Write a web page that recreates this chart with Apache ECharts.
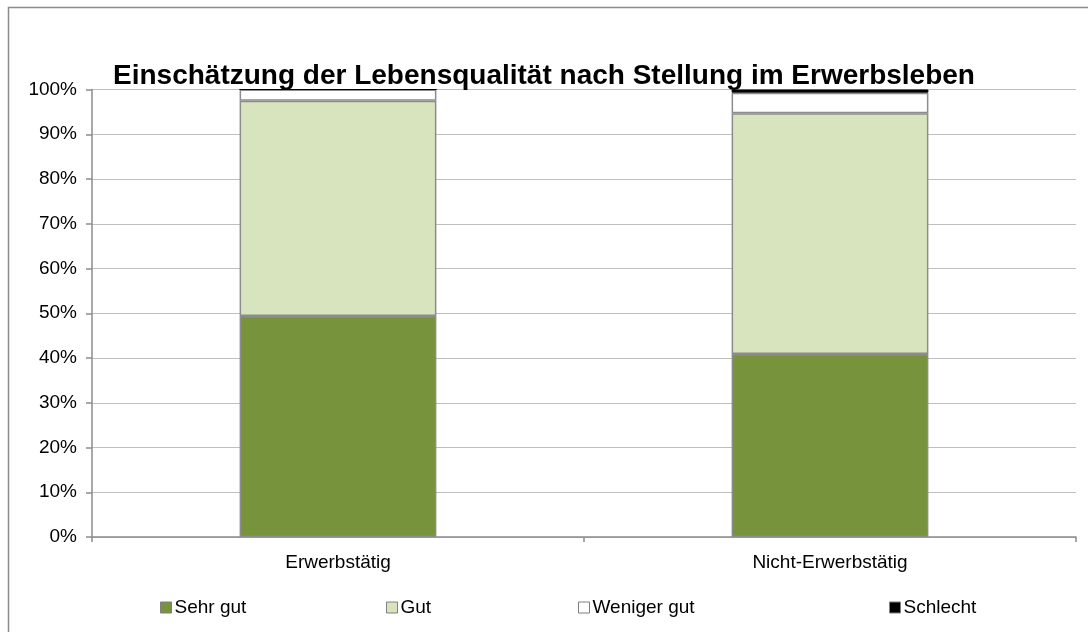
<!DOCTYPE html>
<html>
<head>
<meta charset="utf-8">
<script src="https://cdn.jsdelivr.net/npm/echarts@6/dist/echarts.min.js"></script>
<style>
html,body{margin:0;padding:0;background:#fff;}
#chart{width:1088px;height:632px;}
</style>
</head>
<body>
<div id="chart"></div>
<script>
const categories = ['Erwerbstätig', 'Nicht-Erwerbstätig'];
const seriesNames = ['Sehr gut', 'Gut', 'Weniger gut', 'Schlecht'];
const sehrGut = [49.4, 40.9];
const gut = [48.1, 53.8];
const wenigerGut = [2.5, 4.6];
const schlecht = [0, 0.7];
const yTicks = [0, 10, 20, 30, 40, 50, 60, 70, 80, 90, 100];

const values = [sehrGut, gut, wenigerGut, schlecht];
const colors = ['#77933C', '#D7E4BD', '#FFFFFF', '#000000'];
const borders = ['#8c8c8c', '#8c8c8c', '#8c8c8c', '#000000'];
const legendLeft = [160, 386, 578, 889];
const FONT = 'Liberation Sans, Arial, sans-serif';

const chart = echarts.init(document.getElementById('chart'), null, {renderer: 'canvas'});
chart.setOption({
  animation: false,
  backgroundColor: '#fff',
  title: {
    text: 'Einschätzung der Lebensqualität nach Stellung im Erwerbsleben',
    left: 'center', top: 57,
    textStyle: {fontFamily: FONT, fontSize: 28, fontWeight: 'bold', color: '#000'}
  },
  graphic: [{
    type: 'rect', shape: {x: 8.5, y: 7.5, width: 1100, height: 700},
    style: {fill: null, stroke: '#8c8c8c', lineWidth: 1.5}, silent: true
  }],
  legend: seriesNames.map((n, i) => ({
    data: [n], left: legendLeft[i], top: 598, itemWidth: 11, itemHeight: 11, itemGap: 2,
    icon: 'rect', padding: 0,
    textStyle: {fontFamily: FONT, fontSize: 19, color: '#000', padding: [0,0,0,-2]},
    itemStyle: {borderColor: '#7f7f7f', borderWidth: 1}
  })),
  grid: {left: 92, right: 12, top: 89.5, bottom: 95, containLabel: false},
  xAxis: {
    type: 'category', data: categories, boundaryGap: true,
    axisLine: {lineStyle: {color: '#8c8c8c', width: 1.5}},
    axisTick: {show: true, length: 5, lineStyle: {color: '#8c8c8c', width: 1.5}},
    axisLabel: {fontFamily: FONT, fontSize: 19, color: '#000', margin: 16}
  },
  yAxis: {
    type: 'value', min: yTicks[0], max: yTicks[yTicks.length-1], interval: 10,
    axisLine: {show: true, lineStyle: {color: '#8c8c8c', width: 1.5}},
    axisTick: {show: true, length: 6, lineStyle: {color: '#8c8c8c', width: 1.5}},
    splitLine: {lineStyle: {color: '#bfbfbf', width: 1}},
    axisLabel: {fontFamily: FONT, fontSize: 19, color: '#000', margin: 15, formatter: v => v + '%'}
  },
  series: seriesNames.map((n, i) => ({
    name: n, type: 'bar', stack: 'total', barWidth: '40%',
    data: values[i],
    itemStyle: {color: colors[i], borderColor: borders[i], borderWidth: i === 3 ? 1 : 1.5}
  }))
});
</script>
</body>
</html>
